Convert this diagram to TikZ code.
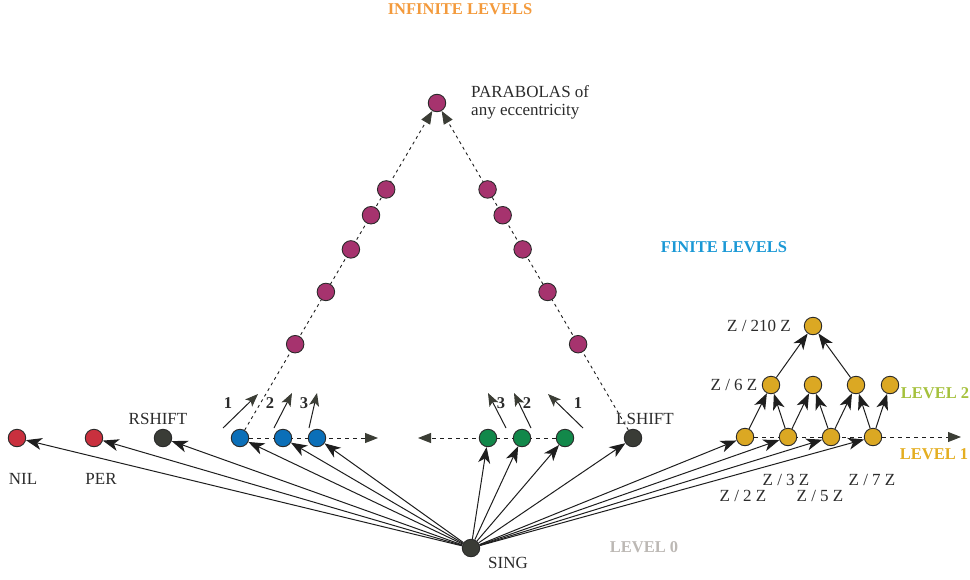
\documentclass[tikz,border=0pt]{standalone}
\usepackage{fontspec}
\setmainfont{Liberation Serif}
\usetikzlibrary{arrows.meta,backgrounds,calc}

\definecolor{cnil}{HTML}{C9303E}
\definecolor{cdark}{HTML}{3A3C36}
\definecolor{cblue}{HTML}{0B6FB8}
\definecolor{cgreen}{HTML}{12884A}
\definecolor{cmag}{HTML}{A6336E}
\definecolor{cyel}{HTML}{DBA823}
\definecolor{rim}{HTML}{2A2A2A}
\definecolor{ink}{HTML}{1E1E1E}
\definecolor{tipc}{HTML}{3B3D35}
\definecolor{txt}{HTML}{2B2B2B}
\definecolor{corange}{HTML}{F39A3C}
\definecolor{cfinite}{HTML}{1A98D5}
\definecolor{clevtwo}{HTML}{A5C13D}
\definecolor{clevone}{HTML}{E4AE21}
\definecolor{clevzero}{HTML}{BCB8B4}

\tikzset{
  dot/.style={circle, draw=rim, line width=0.9pt, minimum size=17.5pt, inner sep=0pt},
  lbl/.style={font=\fontsize{17}{18}\selectfont, text=txt, inner sep=0pt},
  blbl/.style={font=\fontsize{16.5}{18}\selectfont\bfseries, inner sep=0pt},
  conn/.style={line width=1pt, draw=ink,
    -{Stealth[length=16pt, width=12pt, inset=4.5pt, color=ink]}},
  shortarr/.style={line width=1pt, draw=ink,
    -{Stealth[length=13pt, width=10pt, inset=3pt, color=tipc]}},
  dconn/.style={line width=0.9pt, draw=ink, dash pattern=on 4pt off 4pt,
    -{Triangle[length=13pt, width=10pt, color=tipc]}},
  dtri/.style={line width=0.9pt, draw=ink, dash pattern=on 3pt off 3.5pt,
    -{Triangle[length=13pt, width=10pt, color=tipc]}},
}

\begin{document}
\begin{tikzpicture}[x=1pt, y=-1pt]
\useasboundingbox (0,0) rectangle (970,579);

% level 0 points
\node[dot, fill=cnil] (nil) at (17,438) {};
\node[dot, fill=cnil] (per) at (94,438) {};
\node[dot, fill=cdark] (rshift) at (163,438) {};
\node[dot, fill=cdark] (lshift) at (633,438) {};
\node[dot, fill=cdark] (sing) at (471,548) {};

% finite levels on either side
\node[dot, fill=cblue] (b1) at (240,438) {};
\node[dot, fill=cblue] (b2) at (283,438) {};
\node[dot, fill=cblue] (b3) at (317,438) {};
\node[dot, fill=cgreen] (g3) at (488,438) {};
\node[dot, fill=cgreen] (g2) at (522,438) {};
\node[dot, fill=cgreen] (g1) at (565,438) {};

% parabolas at the apex and the two chains leading to it
\node[dot, fill=cmag] (top) at (437,103) {};
\foreach \t [count=\i] in {0.28,0.436,0.563,0.665,0.742} {
  \node[dot, fill=cmag] (lm\i) at ($(b1)!\t!(top)$) {};
  \node[dot, fill=cmag] (rm\i) at ($(lshift)!\t!(top)$) {};
}

% cyclic groups: level 1, level 2 and Z/210Z
\node[dot, fill=cyel] (ya) at (745,437) {};
\node[dot, fill=cyel] (yb) at (788,437) {};
\node[dot, fill=cyel] (yc) at (831,437) {};
\node[dot, fill=cyel] (yd) at (873,437) {};
\node[dot, fill=cyel] (za) at (771,385) {};
\node[dot, fill=cyel] (zb) at (813,385) {};
\node[dot, fill=cyel] (zc) at (856,385) {};
\node[dot, fill=cyel] (zd) at (890,385) {};
\node[dot, fill=cyel] (ztop) at (813,326) {};

% free ends
\coordinate (bend) at (378,438);
\coordinate (gend) at (418,438);
\coordinate (yend) at (961,437);
\coordinate (s1a) at (223,428); \coordinate (e1a) at (258,394);
\coordinate (s2a) at (274,428); \coordinate (e2a) at (292,393);
\coordinate (s3a) at (309,428); \coordinate (e3a) at (317,393);
\coordinate (s3b) at (506,428); \coordinate (e3b) at (488,393);
\coordinate (s2b) at (531,428); \coordinate (e2b) at (514,393);
\coordinate (s1b) at (583,428); \coordinate (e1b) at (548,394);

\begin{scope}[on background layer]
  \foreach \n in {nil,per,rshift,b1,b2,b3,g3,g2,g1,lshift,ya,yb,yc,yd}
    \draw[conn] (sing) -- (\n);
  \draw[dconn] (b1) -- (bend);
  \draw[dconn] (g1) -- (gend);
  \draw[dconn] (ya) -- (yend);
  \draw[dtri] (b1) -- (top);
  \draw[dtri] (lshift) -- (top);
  \draw[shortarr] (s1a) -- (e1a);
  \draw[shortarr] (s2a) -- (e2a);
  \draw[shortarr] (s3a) -- (e3a);
  \draw[shortarr] (s3b) -- (e3b);
  \draw[shortarr] (s2b) -- (e2b);
  \draw[shortarr] (s1b) -- (e1b);
  \draw[conn] (ya) -- (za);
  \draw[conn] (yb) -- (za);
  \draw[conn] (yb) -- (zb);
  \draw[conn] (yc) -- (zb);
  \draw[conn] (yc) -- (zc);
  \draw[conn] (yd) -- (zc);
  \draw[conn] (yd) -- (zd);
  \draw[conn] (za) -- (ztop);
  \draw[conn] (zc) -- (ztop);
\end{scope}

% labels
\node[lbl] (tnil) at (23,479) {NIL};
\node[lbl] (tper) at (101,479) {PER};
\node[lbl] (trs) at (158,419) {RSHIFT};
\node[lbl] (tls) at (645,419) {LSHIFT};
\node[lbl] (tsing) at (508,563) {SING};
\node[lbl, anchor=west, align=left] (tpar) at (471,102) {PARABOLAS of\\any eccentricity};

\node[blbl, text=txt] (n1a) at (228,403) {1};
\node[blbl, text=txt] (n2a) at (270,403) {2};
\node[blbl, text=txt] (n3a) at (304,403) {3};
\node[blbl, text=txt] (n3b) at (501,403) {3};
\node[blbl, text=txt] (n2b) at (527,403) {2};
\node[blbl, text=txt] (n1b) at (578,403) {1};

\node[lbl] (q210) at (759,326) {Z / 210 Z};
\node[lbl] (q6) at (734,385) {Z / 6 Z};
\node[lbl] (q3) at (786,480) {Z / 3 Z};
\node[lbl] (q7) at (872,480) {Z / 7 Z};
\node[lbl] (q2) at (743,496) {Z / 2 Z};
\node[lbl] (q5) at (820,496) {Z / 5 Z};

\node[blbl, text=corange] (tinf) at (460,9) {INFINITE LEVELS};
\node[blbl, text=cfinite] (tfin) at (724,247) {FINITE LEVELS};
\node[blbl, text=clevtwo] (tl2) at (935,393) {LEVEL 2};
\node[blbl, text=clevone] (tl1) at (934,454) {LEVEL 1};
\node[blbl, text=clevzero] (tl0) at (644,547) {LEVEL 0};
\end{tikzpicture}
\end{document}
